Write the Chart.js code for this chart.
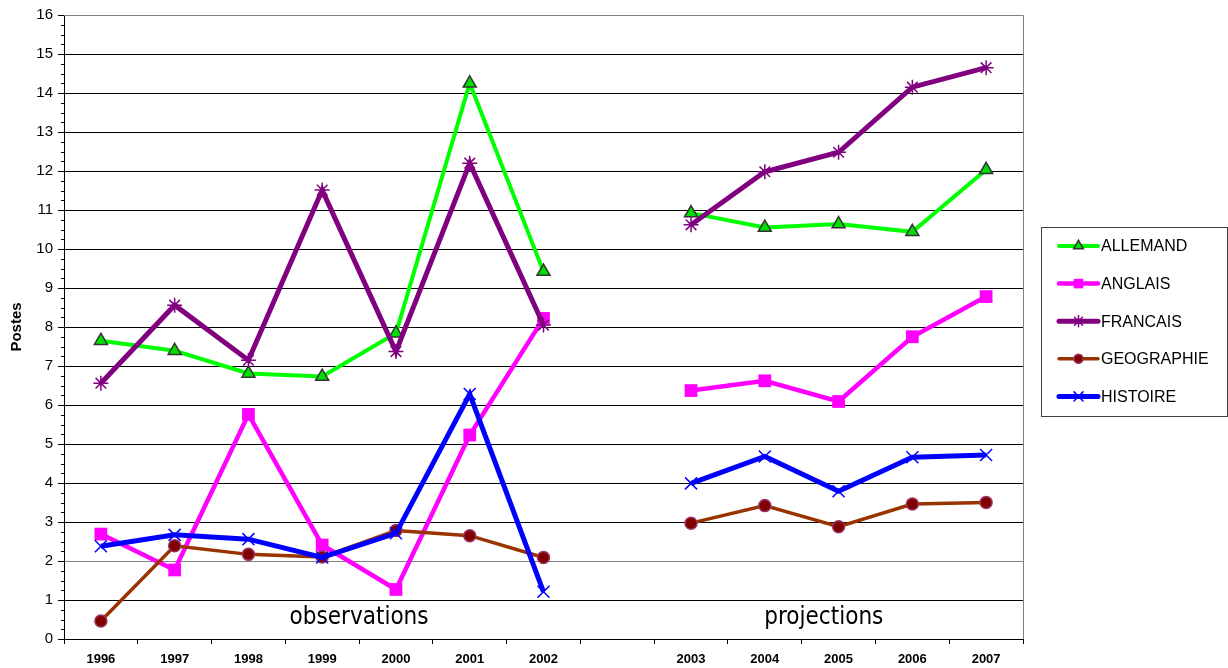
<!DOCTYPE html>
<html>
<head>
<meta charset="utf-8">
<title>Postes</title>
<script src="https://cdn.jsdelivr.net/npm/chart.js"></script>
<style>
  html, body { margin: 0; padding: 0; background: #fff; }
  #wrap { width: 1228px; height: 668px; position: relative; }
</style>
</head>
<body>
<div id="wrap"><canvas id="postesChart"></canvas></div>
<script>
// Années (une colonne vide sépare observations et projections)
const annees = ['1996', '1997', '1998', '1999', '2000', '2001', '2002', '', '2003', '2004', '2005', '2006', '2007'];

const allemand   = [7.65, 7.39, 6.81, 6.73, 7.84, 14.25, 9.42, null, 10.92, 10.55, 10.64, 10.44, 12.03];
const anglais    = [2.69, 1.77, 5.76, 2.41, 1.27, 5.23, 8.22, null, 6.37, 6.62, 6.09, 7.75, 8.78];
const francais   = [6.56, 8.56, 7.15, 11.51, 7.37, 12.20, 8.05, null, 10.62, 11.98, 12.48, 14.15, 14.65];
const geographie = [0.46, 2.39, 2.17, 2.10, 2.78, 2.65, 2.09, null, 2.97, 3.42, 2.88, 3.46, 3.50];
const histoire   = [2.38, 2.67, 2.56, 2.09, 2.71, 6.28, 1.21, null, 3.99, 4.68, 3.79, 4.66, 4.72];

const yMin = 0, yMax = 16;

// textes dans la zone de tracé : [texte, position x (index), valeur y]
const zones = [['observations', 3.5, 0.55], ['projections', 9.8, 0.55]];

const police = '"Liberation Sans", Arial, sans-serif';

const series = [
  { label: 'ALLEMAND', data: allemand, borderColor: '#00ff00', borderWidth: 4,
    pointStyle: 'triangle', pointRadius: 7.5, pointBackgroundColor: '#00e000',
    pointBorderColor: '#333333', pointBorderWidth: 1.5, order: 4 },
  { label: 'ANGLAIS', data: anglais, borderColor: '#ff00ff', borderWidth: 4.5,
    pointStyle: 'rect', pointRadius: 9, pointBackgroundColor: '#ff00ff',
    pointBorderColor: '#ff00ff', pointBorderWidth: 0, order: 3 },
  { label: 'FRANCAIS', data: francais, borderColor: '#800080', borderWidth: 5,
    pointStyle: 'star', pointRadius: 7.5, pointBackgroundColor: '#800080',
    pointBorderColor: '#800080', pointBorderWidth: 1.5, order: 2 },
  { label: 'GEOGRAPHIE', data: geographie, borderColor: '#993300', borderWidth: 3.5,
    pointStyle: 'circle', pointRadius: 6, pointBackgroundColor: '#800000',
    pointBorderColor: '#993366', pointBorderWidth: 1.5, order: 1 },
  { label: 'HISTOIRE', data: histoire, borderColor: '#0000ff', borderWidth: 5,
    pointStyle: 'crossRot', pointRadius: 8.5, pointBackgroundColor: '#0000ff',
    pointBorderColor: '#0000ff', pointBorderWidth: 1.5, order: 0 }
];

// petites graduations, cadre gris et textes "observations"/"projections"
const decor = {
  id: 'decor',
  beforeDatasetsDraw(chart) {
    const { ctx, chartArea: a, scales: { y } } = chart;
    ctx.save();
    ctx.strokeStyle = '#808080';
    ctx.lineWidth = 1;
    ctx.beginPath();
    ctx.moveTo(a.left, a.top + 0.5);
    ctx.lineTo(a.right + 0.5, a.top + 0.5);
    ctx.lineTo(a.right + 0.5, a.bottom);
    ctx.stroke();
    ctx.strokeStyle = '#000';
    ctx.beginPath();
    for (let v = yMin; v < yMax; v += 0.25) {
      if (Number.isInteger(v)) continue;
      const py = Math.round(y.getPixelForValue(v)) + 0.5;
      ctx.moveTo(a.left - 3, py);
      ctx.lineTo(a.left, py);
    }
    ctx.stroke();
    ctx.restore();
  },
  afterDatasetsDraw(chart) {
    const { ctx, scales: { x, y } } = chart;
    ctx.save();
    ctx.fillStyle = '#000';
    ctx.font = '24px "DejaVu Sans Condensed", "Liberation Sans Narrow", sans-serif';
    ctx.textAlign = 'center';
    ctx.textBaseline = 'middle';
    zones.forEach(([txt, xi, yv]) => {
      ctx.fillText(txt, x.getPixelForDecimal((xi + 0.5) / annees.length), y.getPixelForValue(yv));
    });
    ctx.restore();
  }
};

// légende encadrée à droite, trait + marqueur
const legende = {
  id: 'legende',
  afterDraw(chart) {
    const { ctx, chartArea: a } = chart;
    const left = a.right + 18, top = 227, w = 186, h = 189;
    ctx.save();
    ctx.strokeStyle = '#404040';
    ctx.lineWidth = 1;
    ctx.strokeRect(left + 0.5, top + 0.5, w, h);
    ctx.font = '16px ' + police;
    ctx.textBaseline = 'middle';
    series.forEach((s, i) => {
      const cy = top + 19 + i * 37.6;
      const x0 = left + 18, x1 = left + 57, cx = (x0 + x1) / 2;
      ctx.strokeStyle = s.borderColor;
      ctx.lineWidth = s.borderWidth;
      ctx.lineCap = 'round';
      ctx.beginPath();
      ctx.moveTo(x0, cy);
      ctx.lineTo(x1, cy);
      ctx.stroke();
      ctx.fillStyle = s.pointBackgroundColor;
      ctx.strokeStyle = s.pointBorderColor;
      ctx.lineWidth = s.pointBorderWidth;
      Chart.helpers.drawPoint(ctx, {
        pointStyle: s.pointStyle, radius: s.pointRadius * 0.75,
        rotation: 0, borderWidth: s.pointBorderWidth
      }, cx, cy);
      ctx.fillStyle = '#000';
      ctx.fillText(s.label, x1 + 3, cy + 1);
    });
    ctx.restore();
  }
};

new Chart(document.getElementById('postesChart'), {
  type: 'line',
  data: {
    labels: annees,
    datasets: series.map(s => Object.assign({ fill: false, tension: 0, spanGaps: false }, s))
  },
  options: {
    responsive: true,
    maintainAspectRatio: false,
    animation: false,
    layout: { padding: { left: 0, top: 15, right: 205, bottom: 0 } },
    plugins: { legend: { display: false }, tooltip: { enabled: false } },
    scales: {
      x: {
        type: 'category',
        offset: true,
        grid: { offset: true, drawOnChartArea: false, drawTicks: true, tickLength: 5, color: '#000', tickColor: '#000' },
        border: { color: '#000', width: 1 },
        ticks: { color: '#000', padding: 8, maxRotation: 0, autoSkip: false,
                 font: { family: police, size: 13, weight: 'bold' } },
        afterFit(s) { s.height = 29; }
      },
      y: {
        min: yMin,
        max: yMax,
        grid: {
          color: c => (c.tick.value === yMax || c.tick.value === 2) ? '#808080' : '#000',
          lineWidth: 1,
          tickLength: 6,
          tickColor: '#000'
        },
        border: { color: '#000', width: 1 },
        ticks: { stepSize: 1, color: '#000', padding: 5, font: { family: police, size: 15 } },
        title: { display: true, text: 'Postes', color: '#000', padding: { top: 8, bottom: 0 },
                 font: { family: police, size: 15, weight: 'bold' } },
        afterFit(s) { s.width = 64; }
      }
    }
  },
  plugins: [decor, legende]
});
</script>
</body>
</html>
